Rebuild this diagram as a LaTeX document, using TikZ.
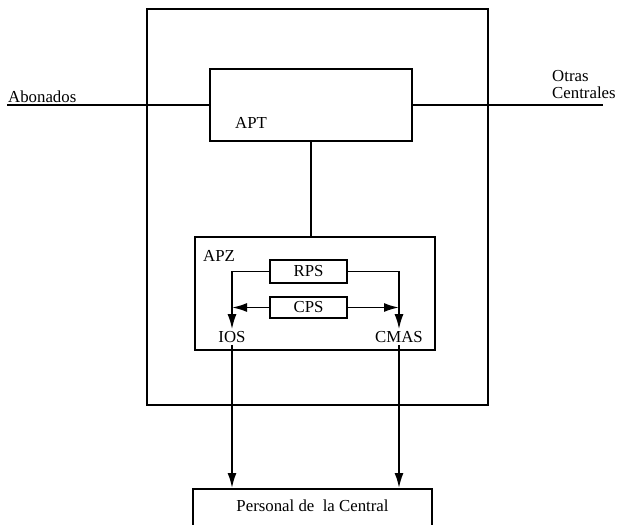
\documentclass[tikz,border=0pt]{standalone}
\usepackage{fontspec}
\setmainfont{Liberation Serif}
\usetikzlibrary{arrows.meta, positioning}

\begin{document}
\begin{tikzpicture}[x=1pt, y=-1pt,
    block/.style={rectangle, draw=black, line width=1.8pt, inner sep=0pt},
    tag/.style={font=\fontsize{16.8}{17.5}\selectfont, inner sep=2pt, align=left},
    link/.style={black, line width=1.8pt},
    flow/.style={-{Latex[length=15pt, width=9pt]}, black, line width=1.8pt},
]

\useasboundingbox (0,0) rectangle (617,524);

% === EXCHANGE FRAME ===
\node[block, minimum width=341pt, minimum height=396pt] (exchange) at (317.5,207) {};

% === APT ===
\node[block, minimum width=202pt, minimum height=72pt] (apt) at (311,105) {};
\node[tag] (aptlabel) at (251,123) {APT};

% === OUTSIDE LINES ===
\coordinate (abon) at (7,105);
\coordinate (otras) at (603,105);
\node[tag, anchor=west] (abonlabel) at (6,97) {Abonados};
\node[tag, anchor=north west] (otraslabel) at (550,68) {Otras\\Centrales};
\draw[link] (abon) -- (apt.west);
\draw[link] (apt.east) -- (otras);

% === APZ ===
\node[block, minimum width=240pt, minimum height=113pt] (apz) at (315,293.5) {};
\node[tag] (apzlabel) at (219,256) {APZ};
\draw[link] (apt.south) -- (apt.south |- apz.north);

\node[block, tag, inner sep=0pt, minimum width=77pt, minimum height=23pt] (rps) at (308.5,271.5) {RPS};
\node[block, tag, inner sep=0pt, minimum width=77pt, minimum height=21pt] (cps) at (308.5,307.5) {CPS};
\node[tag] (ios) at (232,337) {IOS};
\node[tag] (cmas) at (399,337) {CMAS};

\draw[flow] (rps.west) -| (ios.north);
\draw[flow] (rps.east) -| (cmas.north);
\draw[flow] (cps.west) -- (cps.west -| ios.north);
\draw[flow] (cps.east) -- (cps.east -| cmas.north);

% === PERSONAL ===
\node[block, tag, anchor=north, minimum width=239pt, inner sep=5pt, text height=18pt, text depth=40pt] (personal) at (312.5,488) {Personal de\ \ la Central};
\draw[flow] (ios.south) -- (ios.south |- personal.north);
\draw[flow] (cmas.south) -- (cmas.south |- personal.north);

\end{tikzpicture}
\end{document}
